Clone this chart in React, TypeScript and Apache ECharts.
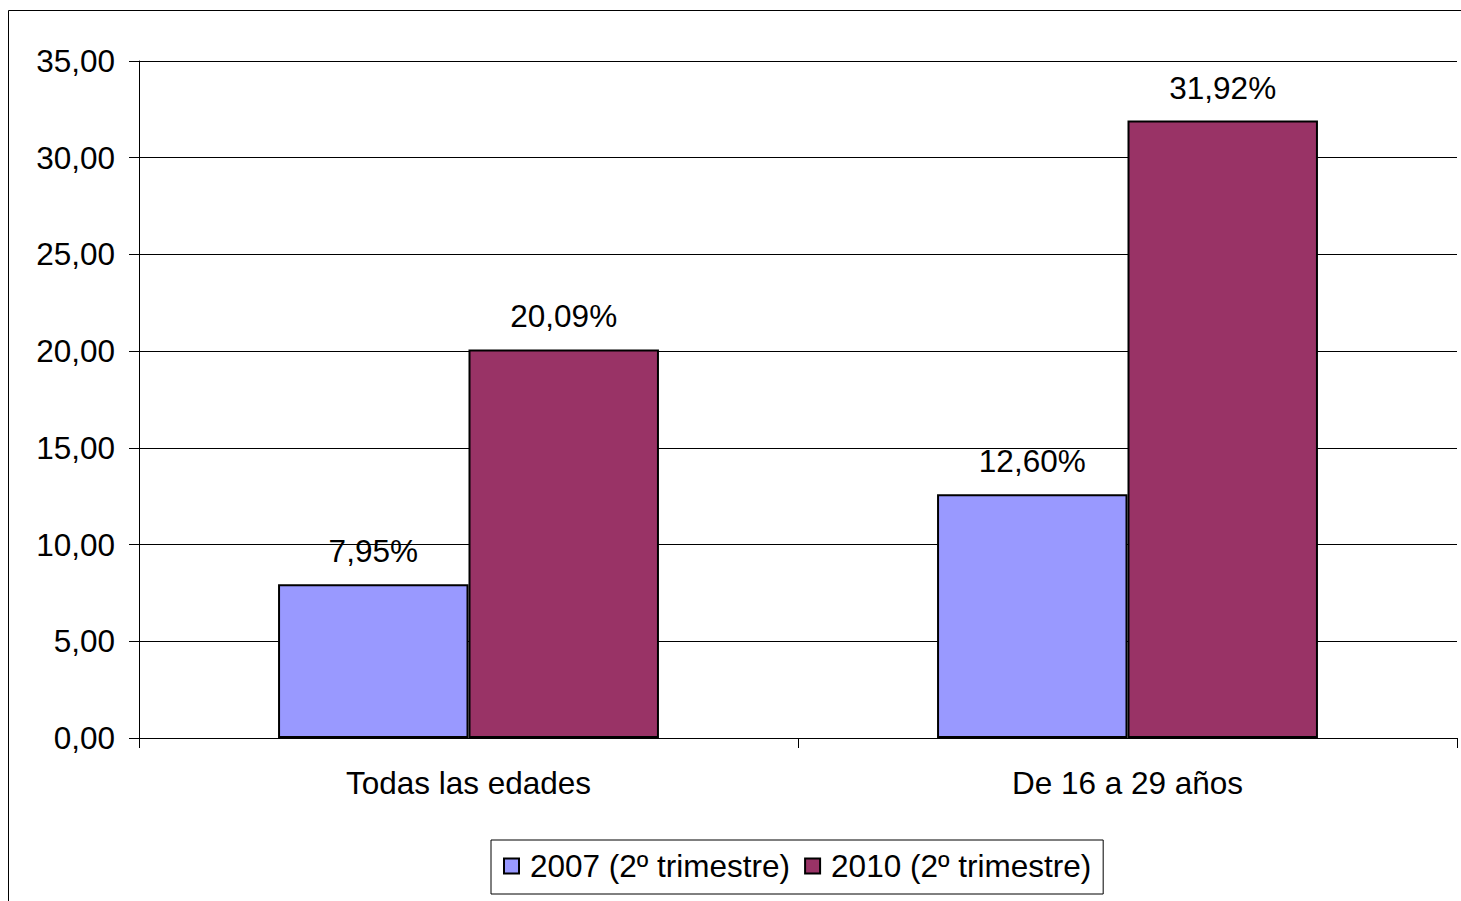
import React, { useEffect, useRef } from "react";
import * as echarts from "echarts";

const categories = ["Todas las edades", "De 16 a 29 años"];
const series2007 = [7.95, 12.6];
const series2010 = [20.09, 31.92];
const seriesNames = ["2007 (2º trimestre)", "2010 (2º trimestre)"];
const yMin = 0;
const yMax = 35;
const yInterval = 5;

const FONT = "'Liberation Sans', Arial, sans-serif";
const FS = 31.5;
const comma = (v: number, d: number) => v.toFixed(d).replace(".", ",");

export default function App() {
  const ref = useRef<HTMLDivElement>(null);
  useEffect(() => {
    if (!ref.current) return;
    const chart = echarts.init(ref.current, null, { renderer: "svg" });
    const labelCfg = {
      show: true,
      position: "top" as const,
      distance: 17,
      color: "#000",
      fontSize: FS,
      fontFamily: FONT,
      formatter: (p: any) => comma(p.value, 2) + "%",
    };
    chart.setOption({
      animation: false,
      backgroundColor: "#fff",
      textStyle: { fontFamily: FONT },
      graphic: [
        {
          type: "rect",
          shape: { x: 8.5, y: 10.5, width: 3000, height: 3000 },
          style: { fill: "none", stroke: "#000", lineWidth: 1 },
          silent: true,
        },
      ],
      grid: { left: 139, top: 61, width: 1318, height: 677, containLabel: false },
      legend: {
        left: 491,
        top: 840,
        padding: [10, 12, 12, 12],
        borderColor: "#000",
        borderWidth: 1,
        itemWidth: 15,
        itemHeight: 15,
        itemGap: 14,
        icon: "rect",
        textStyle: { fontSize: FS, color: "#000", fontFamily: FONT, padding: [0, 0, 0, 6] },
        data: seriesNames,
      },
      xAxis: {
        type: "category",
        data: categories,
        boundaryGap: true,
        axisLine: { lineStyle: { color: "#000", width: 1 } },
        axisTick: { show: true, length: 10, alignWithLabel: false, lineStyle: { color: "#000" } },
        axisLabel: { color: "#000", fontSize: FS, fontFamily: FONT, margin: 29 },
      },
      yAxis: {
        type: "value",
        min: yMin,
        max: yMax,
        interval: yInterval,
        axisLine: { show: true, lineStyle: { color: "#000", width: 1 } },
        axisTick: { show: true, length: 10, lineStyle: { color: "#000" } },
        splitLine: { show: true, lineStyle: { color: "#000", width: 1 } },
        axisLabel: {
          color: "#000",
          fontSize: FS,
          fontFamily: FONT,
          margin: 24,
          formatter: (v: number) => comma(v, 2),
        },
      },
      series: [
        {
          name: seriesNames[0],
          type: "bar",
          data: series2007,
          barGap: "0%",
          barCategoryGap: "42.2%",
          itemStyle: { color: "#9999FF", borderColor: "#000", borderWidth: 2 },
          label: labelCfg,
        },
        {
          name: seriesNames[1],
          type: "bar",
          data: series2010,
          barGap: "0%",
          barCategoryGap: "42.2%",
          itemStyle: { color: "#993366", borderColor: "#000", borderWidth: 2 },
          label: labelCfg,
        },
      ],
    });
    return () => chart.dispose();
  }, []);
  return (
    <div
      ref={ref}
      style={{ position: "absolute", left: 0, top: 0, width: 1461, height: 901, overflow: "hidden" }}
    />
  );
}
